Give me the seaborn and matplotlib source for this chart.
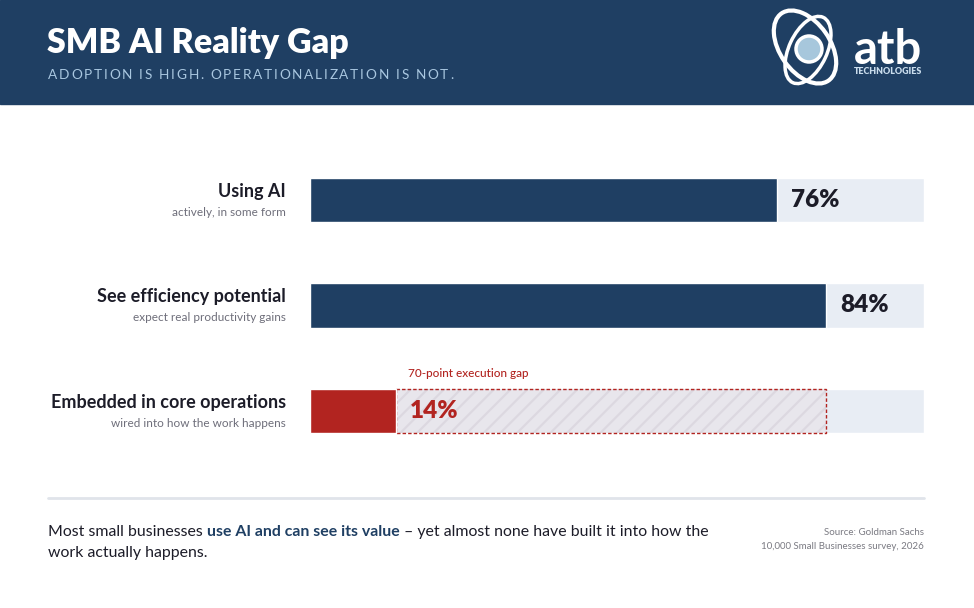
import matplotlib
matplotlib.use("Agg")
import matplotlib.pyplot as plt
import matplotlib.patches as mpatches
import matplotlib.transforms as mtransforms
import seaborn as sns
import pandas as pd

# data
categories = ["Using AI", "See efficiency potential", "Embedded in core operations"]
descriptions = ["actively, in some form", "expect real productivity gains",
                "wired into how the work happens"]
values = [76, 84, 14]
track_max = 100

# colours
NAVY = "#1f3f63"
RED = "#b22420"
TRACK = "#e8edf4"
TEXT = "#1c1c28"
GREY = "#6e6e7a"

sns.set_theme(style="white")
plt.rcParams["font.family"] = ["Lato", "DejaVu Sans"]
plt.rcParams["hatch.linewidth"] = 1.6

fig = plt.figure(figsize=(9.74, 6.08), dpi=100)
fig.patch.set_facecolor("white")

# background axes in pixel coordinates
bg = fig.add_axes([0, 0, 1, 1])
bg.set_xlim(0, 974)
bg.set_ylim(608, 0)
bg.axis("off")
renderer = fig.canvas.get_renderer()


def tracked_text(x, y, s, spacing, **kw):
    for ch in s:
        t = bg.text(x, y, ch, **kw)
        x += t.get_window_extent(renderer).width + spacing


# header band
bg.add_patch(mpatches.Rectangle((0, 0), 974, 104, color=NAVY, zorder=0))
bg.text(47, 53, "SMB AI Reality Gap", color="white", fontsize=24.5,
        fontweight="heavy", va="baseline")
tracked_text(48, 79, "ADOPTION IS HIGH. OPERATIONALIZATION IS NOT.", 1.75,
             color="#a9c7e0", fontsize=9.8, va="baseline")

# logo
bg.add_patch(mpatches.Ellipse((805, 47), 50, 82, angle=-35, fill=False,
                              edgecolor="white", lw=3))
bg.add_patch(mpatches.Ellipse((808, 50), 38, 72, angle=25, fill=False,
                              edgecolor="white", lw=2.5))
bg.add_patch(mpatches.Circle((809, 49), 13, facecolor="#a7c7dc",
                             edgecolor="white", lw=2.5))
bg.text(888, 64, "atb", color="white", fontsize=34, fontweight="bold",
        ha="center", va="baseline")
bg.text(888, 71, "TECHNOLOGIES", color="#c9dcec", fontsize=6.4,
        fontweight="heavy", ha="center", va="center")

# bars axes
ax = fig.add_axes([310 / 974, 144.25 / 608, 614 / 974, 316.5 / 608])
df = pd.DataFrame({"label": categories, "value": values,
                   "track": [track_max] * len(values)})
sns.barplot(data=df, x="track", y="label", color=TRACK, width=0.42,
            saturation=1, ax=ax, zorder=1)
sns.barplot(data=df, x="value", y="label", hue="label",
            palette=[NAVY, NAVY, RED], width=0.42, saturation=1,
            legend=False, ax=ax, zorder=3)

# execution gap region
gap = values[1] - values[2]
ax.barh(2, gap, left=values[2], height=0.42, color="#e8e6ec",
        edgecolor="#dcd8e0", hatch="//", linewidth=0, zorder=2)
ax.barh(2, gap, left=values[2], height=0.42, fill=False, edgecolor=RED,
        linestyle=(0, (2.5, 1.5)), linewidth=1, zorder=2.5)
ax.text(values[2] + 2, 2 - 0.36, f"{gap}-point execution gap", color=RED,
        fontsize=8.5, fontweight="medium", va="center")

ax.set_xlim(0, track_max)
ax.set_ylim(2.5, -0.5)
ax.axis("off")

# value labels
for i, v in enumerate(values):
    ax.text(v + 2.3, i, f"{v}%", color=RED if i == 2 else TEXT,
            fontsize=17.5, fontweight="heavy", va="center", zorder=4)

# category labels left of bars
trans = mtransforms.blended_transform_factory(bg.transData, ax.transData)
for i, (cat, desc) in enumerate(zip(categories, descriptions)):
    ax.text(286, i - 0.085, cat, transform=trans, ha="right", va="center",
            fontsize=13, fontweight="bold", color=TEXT)
    ax.text(286, i + 0.115, desc, transform=trans, ha="right", va="center",
            fontsize=8.5, color=GREY)

# separator
bg.plot([48, 924], [498, 498], color="#e0e4ea", lw=2)

# footer with bold segment
segments = [("Most small businesses ", "normal", TEXT),
            ("use AI and can see its value", "bold", NAVY),
            (" \u2013 yet almost none have built it into how the", "normal", TEXT)]
x = 48
for s, w, c in segments:
    t = bg.text(x, 536, s, fontsize=11.4, fontweight=w, color=c, va="baseline")
    x += t.get_window_extent(renderer).width
bg.text(48, 557, "work actually happens.", fontsize=11.4, color=TEXT,
        va="baseline")

bg.text(924, 535, "Source: Goldman Sachs", fontsize=7, color="#7a7a82",
        ha="right", va="baseline")
bg.text(924, 549, "10,000 Small Businesses survey, 2026", fontsize=7,
        color="#7a7a82", ha="right", va="baseline")

fig.savefig("out.png", dpi=100)
